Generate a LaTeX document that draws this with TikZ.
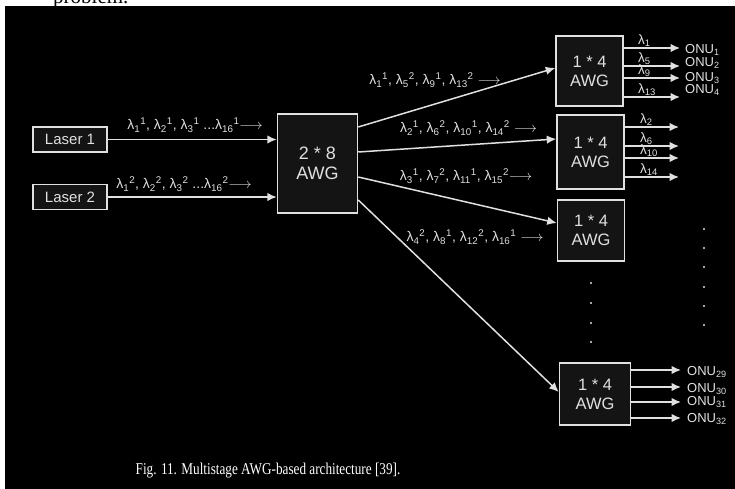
\documentclass[tikz,border=0pt]{standalone}
\usepackage{fontspec}
\setmainfont{Liberation Sans}
\newfontfamily\capfont[FakeStretch=0.8]{Liberation Serif}
\newfontfamily\bodyfont{Liberation Serif}
\usepackage{xcolor}
\usetikzlibrary{arrows.meta,positioning,calc}

\definecolor{fg}{gray}{0.88}
\definecolor{boxfill}{gray}{0.08}

\newcommand{\wl}[2]{λ\textsubscript{#1}\textsuperscript{#2}}

\begin{document}
\begin{tikzpicture}[x=1pt, y=-1pt,
    box/.style={rectangle, draw=fg, fill=boxfill, line width=1.5pt, text=fg, align=center, inner sep=0pt},
    laser/.style={box, minimum width=74pt, minimum height=25pt, font=\fontsize{15}{17}\selectfont},
    bigawg/.style={box, minimum width=80pt, minimum height=99pt, font=\fontsize{18}{20}\selectfont},
    smallawg/.style={box, minimum width=67pt, font=\fontsize{16.5}{19}\selectfont},
    arrow/.style={-{Latex[length=9.5pt,width=8.5pt]}, line width=1.5pt, draw=fg},
    wlabel/.style={text=fg, font=\fontsize{14}{16}\selectfont, inner sep=0pt},
    onu/.style={text=fg, font=\fontsize{13}{15}\selectfont, anchor=west, inner sep=0pt},
    lam/.style={text=fg, font=\fontsize{13.5}{15}\selectfont, anchor=south west, inner sep=0pt}
]
    \clip (0,0) rectangle (735,489);
    \fill[white] (0,0) rectangle (735,489);
    \fill[black] (5,6) rectangle (735,489);
    \node[anchor=base west, inner sep=0pt, font=\bodyfont\fontsize{21}{24}\selectfont] (prob) at (53,4) {problem.};

    % sources
    \node[laser] (laser1) at (70,139.5) {Laser 1};
    \node[laser, below=31pt of laser1] (laser2) {Laser 2};

    % AWG stages
    \node[bigawg] (awg) at (317.5,163.5) {2 * 8\\AWG};
    \node[smallawg, minimum height=70pt] (awga) at (589.5,71) {1 * 4\\AWG};
    \node[smallawg, minimum height=74pt] (awgb) at (590.5,152) {1 * 4\\AWG};
    \node[smallawg, minimum height=61pt] (awgc) at (591,230.5) {1 * 4\\AWG};
    \node[smallawg, minimum width=71pt, minimum height=62pt] (awgd) at (595,394) {1 * 4\\AWG};

    \draw[arrow] (laser1.east) -- (laser1.east -| awg.west);
    \draw[arrow] (laser2.east) -- (laser2.east -| awg.west);
    \draw[arrow] ([yshift=36.5pt]awg.east) -- ([yshift=3pt]awga.west);
    \draw[arrow] ([yshift=11.5pt]awg.east) -- ([yshift=13pt]awgb.west);
    \draw[arrow] ([yshift=-13.5pt]awg.east) -- ([yshift=7.5pt]awgc.west);
    \draw[arrow] ([yshift=-36.5pt]awg.east) -- ([yshift=2pt]awgd.west);

    % wavelength labels
    \node[wlabel] (lab1) at (195,125) {\wl{1}{1}, \wl{2}{1}, \wl{3}{1} ...\wl{16}{1}$\longrightarrow$};
    \node[wlabel] (lab2) at (184,184) {\wl{1}{2}, \wl{2}{2}, \wl{3}{2} ...\wl{16}{2}$\longrightarrow$};
    \node[wlabel] (laba) at (435,80) {\wl{1}{1}, \wl{5}{2}, \wl{9}{1}, \wl{13}{2} $\longrightarrow$};
    \node[wlabel] (labb) at (468.5,128) {\wl{2}{1}, \wl{6}{2}, \wl{10}{1}, \wl{14}{2} $\longrightarrow$};
    \node[wlabel] (labc) at (466,176) {\wl{3}{1}, \wl{7}{2}, \wl{11}{1}, \wl{15}{2}$\longrightarrow$};
    \node[wlabel] (labd) at (475,237) {\wl{4}{2}, \wl{8}{1}, \wl{12}{2}, \wl{16}{1} $\longrightarrow$};

    % outputs of first 1*4 AWG
    \foreach \y/\l/\o [count=\i] in {48/1/50, 66/5/63, 78/9/78, 97/13/90} {
        \coordinate (a\i) at (680,\y);
        \draw[arrow] (awga.east |- a\i) -- (a\i);
        \node[lam] (la\i) at (638,\y-1.5) {λ\textsubscript{\l}};
        \node[onu] (onua\i) at (685,\o) {ONU\textsubscript{\i}};
    }
    % outputs of second 1*4 AWG
    \foreach \y/\l [count=\i] in {127/2, 146/6, 158/10, 177/14} {
        \coordinate (b\i) at (679,\y);
        \draw[arrow] (awgb.east |- b\i) -- (b\i);
        \node[lam] (lb\i) at (640,\y-1.5) {λ\textsubscript{\l}};
    }
    % outputs of last 1*4 AWG
    \foreach \y/\o/\n [count=\i] in {370/372/29, 387/389/30, 402/402/31, 418/419/32} {
        \coordinate (d\i) at (681,\y);
        \draw[arrow] (awgd.east |- d\i) -- (d\i);
        \node[onu] (onud\i) at (687,\o) {ONU\textsubscript{\n}};
    }

    % ellipsis dots
    \foreach \y in {283,303,323,342} \fill[fg] (591,\y) circle (1.1pt);
    \foreach \y in {229,248,267,287,306,325} \fill[fg] (704,\y) circle (1.1pt);

    \node[text=white, font=\capfont\fontsize{16.5}{19}\selectfont] (caption) at (268,471) {Fig. 11. Multistage AWG-based architecture [39].};
\end{tikzpicture}
\end{document}
